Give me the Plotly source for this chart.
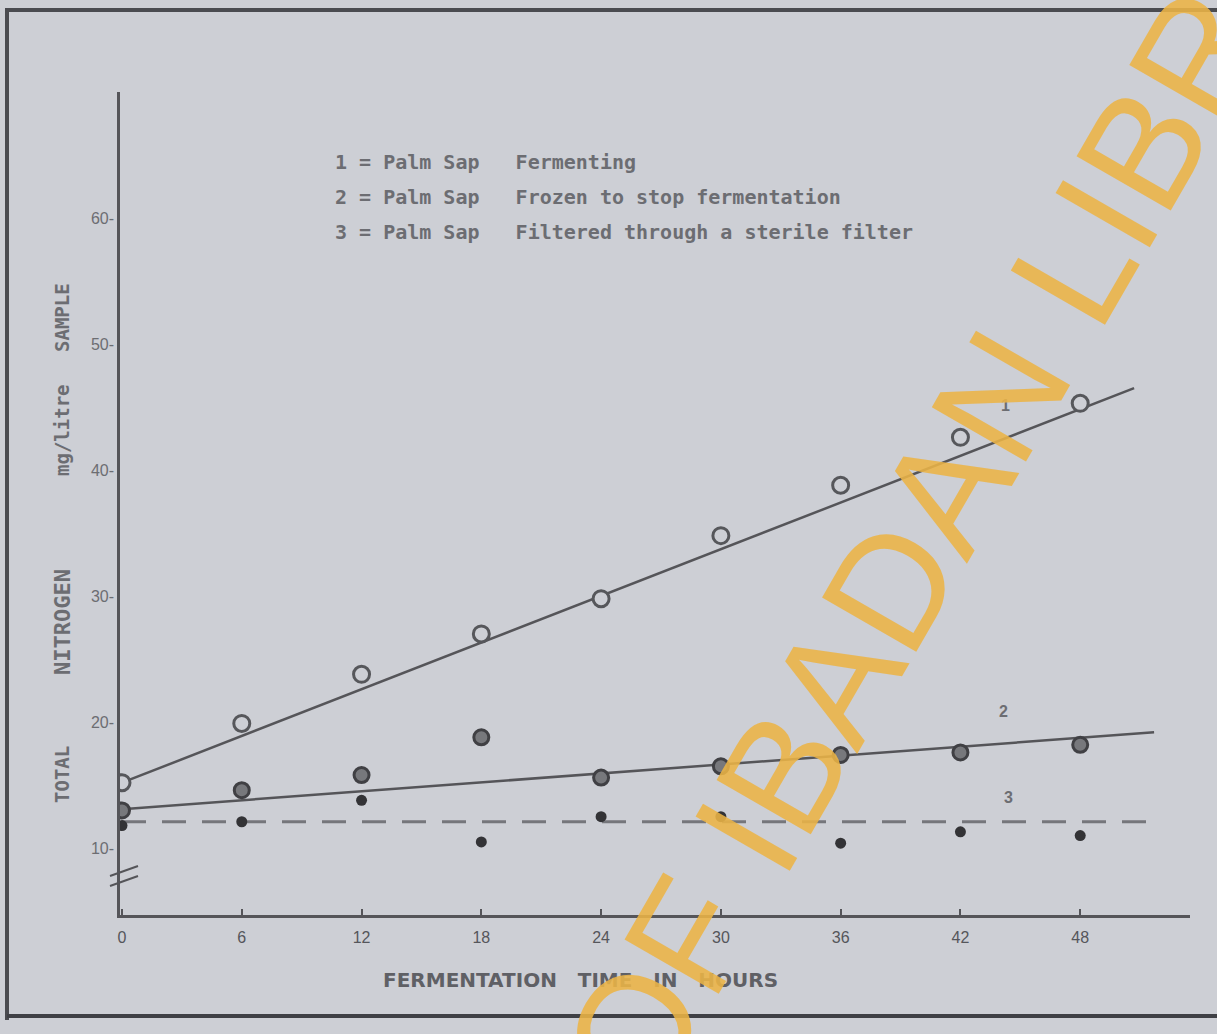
import plotly.graph_objects as go

# Fermentation time (hours) at which the sap was sampled
hours = [0, 6, 12, 18, 24, 30, 36, 42, 48]

# 1 = palm sap fermenting
sap_fermenting = [15.2, 19.9, 23.8, 27.0, 29.8, 34.8, 38.8, 42.6, 45.3]
# 2 = palm sap frozen to stop fermentation
sap_frozen = [13.0, 14.6, 15.8, 18.8, 15.6, 16.5, 17.4, 17.6, 18.2]
# 3 = palm sap filtered through a sterile filter
sap_filtered = [11.8, 12.1, 13.8, 10.5, 12.5, 12.5, 10.4, 11.3, 11.0]

# Straight lines drawn through each series
fit1_x = [0, 50.7]
fit1_y = [15.2, 46.5]
fit2_x = [0, 51.7]
fit2_y = [13.1, 19.2]
fit3_x = [0, 51.7]
fit3_y = [12.1, 12.1]

x_ticks = [0, 6, 12, 18, 24, 30, 36, 42, 48]
x_tick_text = ["0", "6", "12", "18", "24", "30", "36", "42", "48"]
y_ticks = [10, 20, 30, 40, 50, 60]
y_tick_text = ["10-", "20-", "30-", "40-", "50-", "60-"]

legend_lines = [
    "1 = Palm Sap   Fermenting",
    "2 = Palm Sap   Frozen to stop fermentation",
    "3 = Palm Sap   Filtered through a sterile filter",
]

# y-axis title, one word at a time (bottom to top)
y_title_words = ["TOTAL", "NITROGEN", "mg/litre", "SAMPLE"]

W, H = 1217, 1034
ML, MR, MT, MB = 120, 27, 92, 119
PW, PH = W - ML - MR, H - MT - MB

BG = "#cdcfd5"
INK = "#555559"
TXT = "#6c6d72"


def px(x):
    return (x - ML) / PW


def py(y):
    return (H - MB - y) / PH


fig = go.Figure()

fig.add_trace(go.Scatter(x=fit1_x, y=fit1_y, mode="lines",
                         line=dict(color=INK, width=2.5), showlegend=False))
fig.add_trace(go.Scatter(x=fit2_x, y=fit2_y, mode="lines",
                         line=dict(color=INK, width=2.5), showlegend=False))
fig.add_trace(go.Scatter(x=fit3_x, y=fit3_y, mode="lines",
                         line=dict(color="#75767b", width=3, dash="24px,16px"),
                         showlegend=False))

fig.add_trace(go.Scatter(x=hours, y=sap_fermenting, mode="markers",
                         marker=dict(size=16, color=BG, symbol="circle",
                                     line=dict(color="#56575b", width=3)),
                         showlegend=False))
fig.add_trace(go.Scatter(x=hours, y=sap_frozen, mode="markers",
                         marker=dict(size=15, color="#77787c", symbol="circle",
                                     line=dict(color="#404044", width=3)),
                         showlegend=False))
fig.add_trace(go.Scatter(x=hours, y=sap_filtered, mode="markers",
                         marker=dict(size=11, color="#333336", symbol="circle",
                                     line=dict(width=0)),
                         showlegend=False))

annotations = []

# legend block written inside the plot
for i, line in enumerate(legend_lines):
    annotations.append(dict(
        x=px(333), y=py(162 + i * 35), xref="paper", yref="paper",
        text="<b>" + line + "</b>", showarrow=False, xanchor="left", yanchor="middle",
        font=dict(family="DejaVu Sans Mono", size=20, color=TXT)))

# curve numbers
for lab, (lx, ly) in zip(["1", "2", "3"], [(1012, 405), (1010, 722), (1015, 808)]):
    annotations.append(dict(
        x=px(lx), y=py(ly), xref="paper", yref="paper", text="<b>" + lab + "</b>",
        showarrow=False, font=dict(family="Liberation Sans", size=16, color=TXT)))

# axis titles
annotations.append(dict(
    x=px(580), y=py(980), xref="paper", yref="paper",
    xanchor="center", yanchor="middle",
    text="<b>FERMENTATION   TIME   IN   HOURS</b>", showarrow=False,
    font=dict(family="DejaVu Sans", size=20, color="#5f6065")))
for word, wy, fs in zip(y_title_words, [775, 622, 430, 318], [19, 22, 19, 19]):
    annotations.append(dict(
        x=px(62), y=py(wy), xref="paper", yref="paper", textangle=-90,
        xanchor="center", yanchor="middle",
        text="<b>" + word + "</b>", showarrow=False,
        font=dict(family="DejaVu Sans Mono", size=fs, color=TXT)))

# library watermark
annotations.append(dict(
    x=px(748), y=py(833), xref="paper", yref="paper", textangle=-60,
    xanchor="center", yanchor="middle",
    text="UNIVERSITY OF IBADAN LIBRARY", showarrow=False,
    font=dict(family="Liberation Sans", size=158, color="rgba(236,180,70,0.88)")))

shapes = [
    # axis break marks
    dict(type="line", xref="paper", yref="paper", x0=px(110), y0=py(876), x1=px(138), y1=py(866),
         line=dict(color=INK, width=2)),
    dict(type="line", xref="paper", yref="paper", x0=px(110), y0=py(886), x1=px(138), y1=py(876),
         line=dict(color=INK, width=2)),
    # page frame
    dict(type="line", xref="paper", yref="paper", x0=px(8), y0=py(10), x1=px(1217), y1=py(10),
         line=dict(color="#4a4b50", width=4)),
    dict(type="line", xref="paper", yref="paper", x0=px(7), y0=py(8), x1=px(7), y1=py(1020),
         line=dict(color="#4a4b50", width=4)),
    dict(type="line", xref="paper", yref="paper", x0=px(7), y0=py(1016), x1=px(1217), y1=py(1016),
         line=dict(color="#3f4045", width=4)),
]

fig.update_layout(
    width=W, height=H,
    margin=dict(l=ML, r=MR, t=MT, b=MB),
    paper_bgcolor=BG, plot_bgcolor=BG,
    annotations=annotations, shapes=shapes,
    showlegend=False,
)

fig.update_xaxes(
    range=[-0.1, 53.5], tickvals=x_ticks, ticktext=x_tick_text,
    showgrid=False, zeroline=False, showline=True, linecolor=INK, linewidth=3,
    ticks="inside", ticklen=6, tickcolor=INK, tickwidth=2,
    tickfont=dict(family="Liberation Sans Narrow, Liberation Sans", size=16, color="#55565b"),
    ticklabelstandoff=6,
)
fig.update_yaxes(
    range=[4.7, 70], tickvals=y_ticks, ticktext=y_tick_text,
    showgrid=False, zeroline=False, showline=True, linecolor=INK, linewidth=2.5,
    ticks="", tickfont=dict(family="Liberation Sans Narrow, Liberation Sans", size=16, color="#6c6d72"),
    ticklabelstandoff=0,
)

fig.write_html("out.html")
